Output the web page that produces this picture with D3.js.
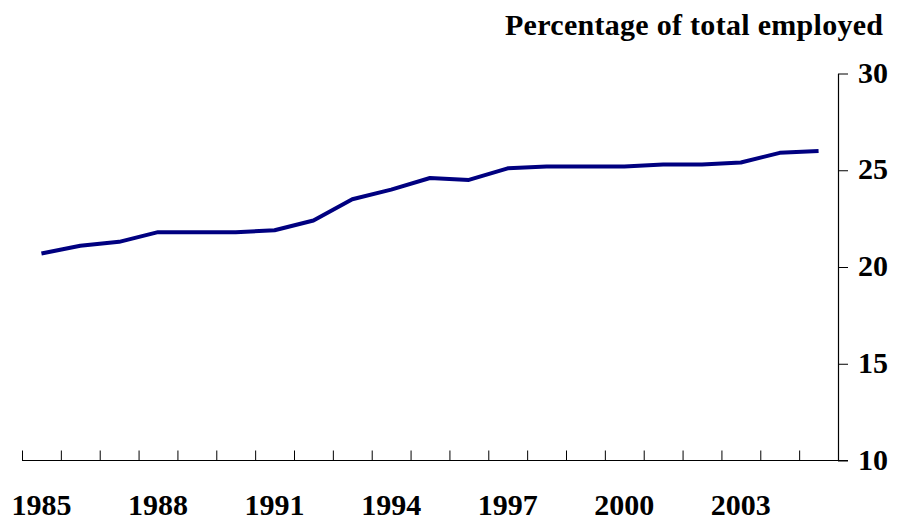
<!DOCTYPE html>
<html>
<head>
<meta charset="utf-8">
<script src="https://cdn.jsdelivr.net/npm/d3@7"></script>
<style>
  html, body { margin: 0; padding: 0; background: #fff; }
  svg { display: block; }
  text { font-family: "Liberation Serif", "Times New Roman", serif; font-weight: bold; fill: #000; }
</style>
</head>
<body>
<svg id="chart" width="899" height="518"></svg>
<script>
const years = [1985,1986,1987,1988,1989,1990,1991,1992,1993,1994,1995,1996,1997,1998,1999,2000,2001,2002,2003,2004,2005];
const values = [20.7,21.1,21.3,21.8,21.8,21.8,21.9,22.4,23.5,24.0,24.6,24.5,25.1,25.2,25.2,25.2,25.3,25.3,25.4,25.9,26.0];
const xTickLabels = [1985,1988,1991,1994,1997,2000,2003];
const yTicks = [10,15,20,25,30];
const yTitle = "Percentage of total employed";

const svg = d3.select("#chart");
const mLeft = 22, mRight = 838, mTop = 73.5, mBottom = 460.5;

const x = d3.scaleBand().domain(years).range([mLeft, mRight]).paddingInner(0).paddingOuter(0);
const xEdge = d3.scaleLinear().domain([years[0] - 0.5, years[years.length - 1] + 0.5]).range([mLeft, mRight]);
const y = d3.scaleLinear().domain([10, 30]).range([mBottom, mTop]);

// x axis: line + inward ticks at category boundaries
const edgeVals = d3.range(years[0] - 0.5, years[years.length - 1] + 1, 1);
const gx = svg.append("g").attr("transform", `translate(0,${mBottom})`)
  .call(d3.axisTop(xEdge).tickValues(edgeVals).tickSize(10).tickSizeOuter(0).tickFormat(""));
gx.select(".domain").remove();
gx.selectAll("line").attr("stroke", "#000").attr("stroke-width", 1);
svg.append("line").attr("x1", mLeft).attr("x2", mRight + 10).attr("y1", mBottom).attr("y2", mBottom)
  .attr("stroke", "#000").attr("stroke-width", 1.2);

// x labels
const gxl = svg.append("g").attr("transform", `translate(0,${mBottom})`)
  .call(d3.axisBottom(x).tickValues(xTickLabels).tickSize(0).tickPadding(0).tickFormat(d3.format("d")));
gxl.select(".domain").remove();
gxl.selectAll("text").attr("font-size", 30).attr("dy", 0).attr("y", 54.5)
  .style("font-family", '"Liberation Serif", serif').style("font-weight", "bold");

// y axis on right
const gy = svg.append("g").attr("transform", `translate(${mRight},0)`)
  .call(d3.axisRight(y).tickValues(yTicks).tickSize(10).tickSizeOuter(0).tickPadding(10).tickFormat(d3.format("d")));
gy.select(".domain").attr("stroke", "#000").attr("stroke-width", 1.2);
gy.selectAll("line").attr("stroke", "#000").attr("stroke-width", 1);
gy.selectAll("text").attr("font-size", 30).attr("dy", "0.29em")
  .style("font-family", '"Liberation Serif", serif').style("font-weight", "bold");

// title
svg.append("text").attr("x", 883).attr("y", 35).attr("text-anchor", "end")
  .attr("font-size", 30).attr("textLength", 378).attr("lengthAdjust", "spacing")
  .text(yTitle);

// line
const line = d3.line()
  .x((d, i) => x(years[i]) + x.bandwidth() / 2)
  .y(d => y(d));
svg.append("path").datum(values)
  .attr("d", line)
  .attr("fill", "none")
  .attr("stroke", "#000080")
  .attr("stroke-width", 4)
  .attr("stroke-linejoin", "round");
</script>
</body>
</html>
